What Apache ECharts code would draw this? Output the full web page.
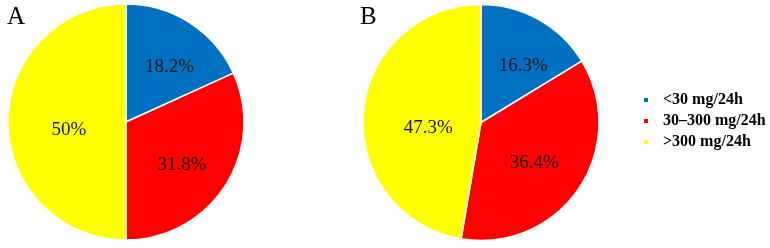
<!DOCTYPE html>
<html>
<head>
<meta charset="utf-8">
<script src="https://cdn.jsdelivr.net/npm/echarts@6/dist/echarts.min.js"></script>
<style>
html,body{margin:0;padding:0;background:#fff;}
#chart{width:770px;height:248px;}
</style>
</head>
<body>
<div id="chart"></div>
<script>
// Data
var categories = ['<30 mg/24h', '30\u2013300 mg/24h', '>300 mg/24h'];
var valuesA = [18.2, 31.8, 50];
var valuesB = [16.3, 36.4, 47.3];
var panelLabels = ['A', 'B'];

// Style
var colors = ['#0070C0', '#FF0000', '#FFFF00'];
var labelNudgeA = [[10, -3], [4, 9], [5, 8]];
var labelNudgeB = [[12, -2], [2, 6], [9, 11]];
var serif = '"Liberation Serif", "Times New Roman", serif';

function buildData(vals) {
  return vals.map(function (v, i) {
    return { name: categories[i], value: v, itemStyle: { color: colors[i] } };
  });
}

function pieSeries(vals, center, nudge) {
  return {
    type: 'pie',
    center: center,
    radius: 118,
    startAngle: 90,
    clockwise: true,
    silent: true,
    animation: false,
    itemStyle: { borderColor: '#ffffff', borderWidth: 1.5 },
    label: {
      show: true,
      position: 'inside',
      formatter: function (p) { return p.value + '%'; },
      fontFamily: serif,
      fontSize: 19,
      color: '#141414'
    },
    labelLine: { show: false },
    labelLayout: function (p) {
      var n = nudge[p.dataIndex];
      return { dx: n[0], dy: n[1] };
    },
    data: buildData(vals)
  };
}

var chart = echarts.init(document.getElementById('chart'), null, { renderer: 'canvas' });
chart.setOption({
  backgroundColor: '#ffffff',
  animation: false,
  legend: {
    data: categories,
    orient: 'vertical',
    left: 642,
    top: 92,
    padding: 0,
    icon: 'rect',
    itemWidth: 6,
    itemHeight: 6,
    itemGap: 5,
    selectedMode: false,
    textStyle: {
      fontFamily: serif,
      fontWeight: 'bold',
      fontSize: 16,
      lineHeight: 16,
      color: '#000',
      padding: [0, 0, 0, 9]
    }
  },
  graphic: [
    { type: 'text', left: 7, top: 5, style: { text: panelLabels[0], font: '25px ' + serif, fill: '#000' } },
    { type: 'text', left: 360, top: 5, style: { text: panelLabels[1], font: '25px ' + serif, fill: '#000' } }
  ],
  series: [
    pieSeries(valuesA, [126, 122], labelNudgeA),
    pieSeries(valuesB, [481, 122.5], labelNudgeB)
  ]
});
</script>
</body>
</html>
